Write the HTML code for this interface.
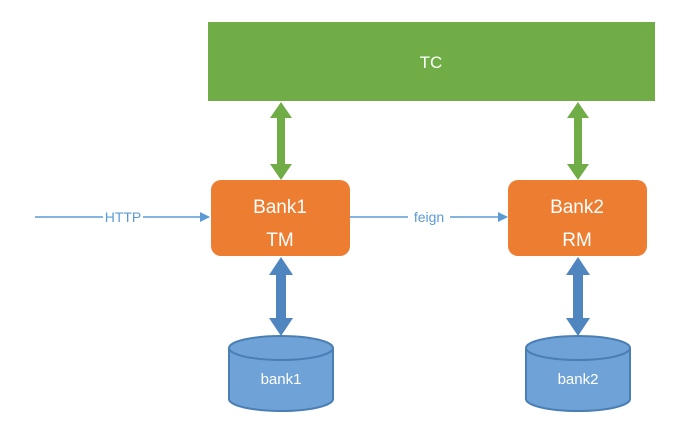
<html><body style="margin:0;width:698px;height:421px;background:#fff;overflow:hidden">
<svg width="698" height="421" viewBox="0 0 698 421" font-family="Liberation Sans, sans-serif">
<defs>
<marker id="a" markerWidth="10" markerHeight="10" refX="9" refY="5" orient="auto" markerUnits="userSpaceOnUse"><path d="M0,0L10,5L0,10z" fill="#5b9bd5"/></marker>
</defs>
<rect x="208" y="22" width="447" height="79" fill="#70ad47"/>
<text x="431" y="68" font-size="17" fill="#fff" text-anchor="middle">TC</text>
<rect x="211" y="180" width="139" height="76" rx="10" fill="#ed7d31"/>
<text x="280" y="213" font-size="19" fill="#fff" text-anchor="middle">Bank1</text>
<text x="280" y="246" font-size="19" fill="#fff" text-anchor="middle">TM</text>
<rect x="508" y="180" width="139" height="76" rx="10" fill="#ed7d31"/>
<text x="577" y="213" font-size="19" fill="#fff" text-anchor="middle">Bank2</text>
<text x="577" y="246" font-size="19" fill="#fff" text-anchor="middle">RM</text>
<g fill="#70ad47">
<path d="M281,102 L292,118 L285,118 L285,164 L292,164 L281,180 L270,164 L277,164 L277,118 L270,118Z"/>
<path d="M578,102 L589,118 L582,118 L582,164 L589,164 L578,180 L567,164 L574,164 L574,118 L567,118Z"/>
</g>
<g fill="#4f86c0">
<path d="M281,257 L293,275 L286,275 L286,318 L293,318 L281,336 L269,318 L276,318 L276,275 L269,275Z"/>
<path d="M578,257 L590,275 L583,275 L583,318 L590,318 L578,336 L566,318 L573,318 L573,275 L566,275Z"/>
</g>
<g fill="#6fa3d8" stroke="#4a7fb5" stroke-width="2">
<path d="M229,348 L229,399 A52,12 0 0 0 333,399 L333,348"/>
<ellipse cx="281" cy="348" rx="52" ry="12"/>
<path d="M526,348 L526,399 A52,12 0 0 0 630,399 L630,348"/>
<ellipse cx="578" cy="348" rx="52" ry="12"/>
</g>
<text x="281" y="384" font-size="15" fill="#fff" text-anchor="middle">bank1</text>
<text x="578" y="384" font-size="15" fill="#fff" text-anchor="middle">bank2</text>
<g stroke="#5b9bd5" stroke-width="1.5">
<line x1="35" y1="217" x2="209" y2="217" marker-end="url(#a)"/>
<line x1="350" y1="217" x2="507" y2="217" marker-end="url(#a)"/>
</g>
<rect x="103" y="209" width="40" height="16" fill="#fff"/>
<text x="123" y="222" font-size="14" fill="#5b9bd5" text-anchor="middle">HTTP</text>
<rect x="408" y="209" width="42" height="16" fill="#fff"/>
<text x="429" y="222" font-size="14" fill="#5b9bd5" text-anchor="middle">feign</text>
</svg>
</body></html>
